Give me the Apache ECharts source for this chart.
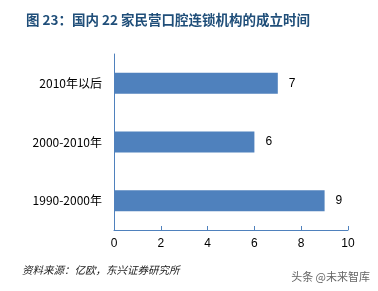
<!DOCTYPE html>
<html>
<head>
<meta charset="utf-8">
<script src="https://cdn.jsdelivr.net/npm/echarts@6/dist/echarts.min.js"></script>
<style>html,body{margin:0;padding:0;background:#fff;}#c{width:378px;height:291px;}</style>
</head>
<body>
<div id="c"></div>
<script>
var categories = ['1990-2000年', '2000-2010年', '2010年以后'];
var values = [9, 6, 7];
var xTicks = [0, 2, 4, 6, 8, 10];
var titleText = '图 23：国内 22 家民营口腔连锁机构的成立时间';
var sourceText = '资料来源：亿欧，东兴证券研究所';
var watermark = '头条 @未来智库';

var chart = echarts.init(document.getElementById('c'), null, {renderer: 'canvas'});
chart.setOption({
  animation: false,
  backgroundColor: '#fff',
  title: {
    text: titleText,
    left: 21, top: 8,
    textStyle: {fontSize: 13.5, fontWeight: 'bold', color: '#1F4E79', fontFamily: 'Noto Sans CJK SC'}
  },
  grid: {left: 114, right: 30, top: 54, bottom: 61, containLabel: false},
  xAxis: {
    type: 'value', min: xTicks[0], max: xTicks[xTicks.length - 1], interval: 2,
    axisLine: {show: true, lineStyle: {color: '#4F81BD', width: 1}},
    axisTick: {show: true, inside: true, length: 4, lineStyle: {color: '#4F81BD'}},
    splitLine: {show: false},
    axisLabel: {color: '#000', fontSize: 12, margin: 8, fontFamily: 'Liberation Sans'}
  },
  yAxis: {
    type: 'category', data: categories,
    axisLine: {show: true, lineStyle: {color: '#4F81BD', width: 1}},
    axisTick: {show: false},
    axisLabel: {color: '#000', fontSize: 12, margin: 12, fontFamily: 'Noto Sans CJK SC'}
  },
  series: [{
    type: 'bar', data: values, barWidth: 21,
    itemStyle: {color: '#4F81BD'},
    label: {show: true, position: 'right', distance: 11, color: '#000', fontSize: 12, fontFamily: 'Liberation Sans'}
  }],
  graphic: [
    {type: 'text', left: 22, top: 265, style: {text: sourceText, fontSize: 10.5, fontStyle: 'italic', fill: '#222', fontFamily: 'Noto Sans CJK SC', font: 'italic 10.5px "Noto Sans CJK SC"'}},
    {type: 'text', right: 8, top: 271, style: {text: watermark, fontSize: 11, fill: '#666', fontFamily: 'Noto Sans CJK SC'}}
  ]
});
</script>
</body>
</html>
